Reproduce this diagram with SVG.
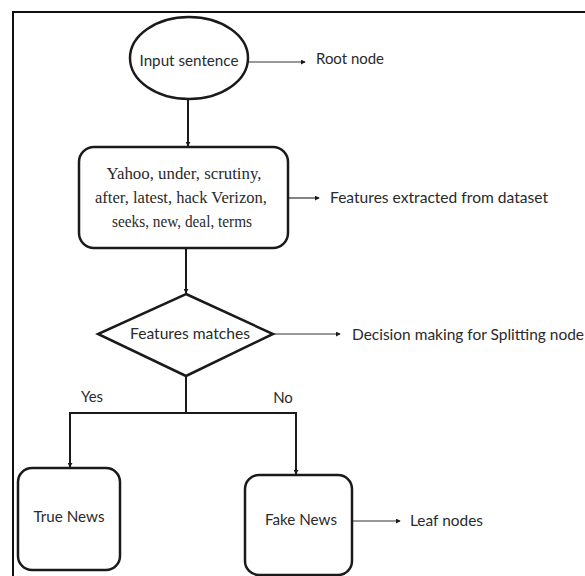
<svg xmlns="http://www.w3.org/2000/svg" width="585" height="576" viewBox="0 0 585 576">
<defs>
<style>
.shape{fill:#fff;stroke:#1a1a1a;stroke-width:2.5}
.conn{fill:none;stroke:#1a1a1a;stroke-width:2}
.thin{fill:none;stroke:#333;stroke-width:1.2}
.sans{font-family:Lato,"Liberation Sans",sans-serif;font-size:15px;fill:#2a2a2a}
.serif{font-family:"Liberation Serif",serif;font-size:16px;fill:#2a2a2a}
</style>
<marker id="ah" viewBox="0 0 6 6" refX="5" refY="3" markerWidth="5" markerHeight="5" orient="auto" markerUnits="userSpaceOnUse">
<path d="M0,0 L6,3 L0,6 z" fill="#1a1a1a"/>
</marker>
</defs>
<rect width="585" height="576" fill="#fff"/>
<path d="M13,576 V12 H585" fill="none" stroke="#111" stroke-width="2"/>
<g id="connectors">
<line class="conn" x1="188" y1="99" x2="188" y2="146" marker-end="url(#ah)"/>
<line class="conn" x1="186" y1="248" x2="186" y2="293" marker-end="url(#ah)"/>
<path class="conn" d="M186,376 V413 M69,413 H297"/>
<line class="conn" x1="70" y1="413" x2="70" y2="467" marker-end="url(#ah)"/>
<line class="conn" x1="296" y1="413" x2="296" y2="474" marker-end="url(#ah)"/>
<line class="thin" x1="248" y1="62" x2="305" y2="62" marker-end="url(#ah)"/>
<line class="thin" x1="288" y1="198" x2="319" y2="198" marker-end="url(#ah)"/>
<line class="thin" x1="273" y1="334" x2="340" y2="334" marker-end="url(#ah)"/>
<line class="thin" x1="352" y1="521" x2="400" y2="521" marker-end="url(#ah)"/>
</g>
<g id="input">
<ellipse class="shape" cx="189" cy="58" rx="59" ry="41"/>
<text class="sans" x="189" y="66" text-anchor="middle" textLength="99" lengthAdjust="spacingAndGlyphs">Input sentence</text>
</g>
<g id="root-label"><text class="sans" x="316" y="64" textLength="68" lengthAdjust="spacingAndGlyphs">Root node</text></g>
<g id="features">
<rect class="shape" x="79" y="147" width="209" height="101" rx="15"/>
<text class="serif" x="184" y="179" text-anchor="middle" textLength="155" lengthAdjust="spacingAndGlyphs">Yahoo, under, scrutiny,</text>
<text class="serif" x="181" y="203" text-anchor="middle" textLength="172" lengthAdjust="spacingAndGlyphs">after, latest, hack Verizon,</text>
<text class="serif" x="182" y="227" text-anchor="middle" textLength="140" lengthAdjust="spacingAndGlyphs">seeks, new, deal, terms</text>
</g>
<g id="features-label"><text class="sans" x="330" y="203" textLength="218" lengthAdjust="spacingAndGlyphs">Features extracted from dataset</text></g>
<g id="decision">
<polygon class="shape" points="186,294 273,334 186,376 98,334"/>
<text class="sans" x="190" y="339" text-anchor="middle" textLength="120" lengthAdjust="spacingAndGlyphs">Features matches</text>
</g>
<g id="decision-label"><text class="sans" x="352" y="340" textLength="232" lengthAdjust="spacingAndGlyphs">Decision making for Splitting node</text></g>
<g id="yes"><text class="sans" x="92" y="402" text-anchor="middle" font-size="14">Yes</text></g>
<g id="no"><text class="sans" x="283" y="403" text-anchor="middle" font-size="14">No</text></g>
<g id="true-news">
<rect class="shape" x="18" y="468" width="102" height="102" rx="14"/>
<text class="sans" x="69" y="522" text-anchor="middle" textLength="71" lengthAdjust="spacingAndGlyphs">True News</text>
</g>
<g id="fake-news">
<rect class="shape" x="245" y="475" width="107" height="100" rx="14"/>
<text class="sans" x="301" y="525" text-anchor="middle" textLength="72" lengthAdjust="spacingAndGlyphs">Fake News</text>
</g>
<g id="leaf-label"><text class="sans" x="410" y="526" textLength="73" lengthAdjust="spacingAndGlyphs">Leaf nodes</text></g>
</svg>
